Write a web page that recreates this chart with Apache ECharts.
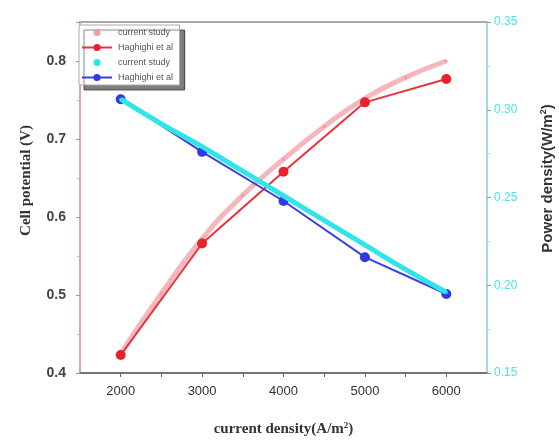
<!DOCTYPE html>
<html>
<head>
<meta charset="utf-8">
<script src="https://cdn.jsdelivr.net/npm/echarts@6/dist/echarts.min.js"></script>
<style>
  html, body { margin: 0; padding: 0; background: #fff; }
  #chart { width: 559px; height: 443px; }
</style>
</head>
<body>
<div id="chart"></div>
<script>
// current density (A/m2)
const xStudy = [2000, 2500, 3000, 3500, 4000, 4500, 5000, 5500, 6000];
const xRef = [2000, 3000, 4000, 5000, 6000];

// red pair, left axis
const redStudy = [0.425, 0.502, 0.572, 0.628, 0.674, 0.716, 0.752, 0.779, 0.800];
const redRef = [0.423, 0.566, 0.658, 0.747, 0.777];

// blue pair, right axis
const cyanStudy = [0.306, 0.292, 0.279, 0.265, 0.251, 0.237, 0.223, 0.209, 0.196];
const blueRef = [0.306, 0.276, 0.248, 0.216, 0.195];

const xLabels = [2000, 3000, 4000, 5000, 6000];

const zip = (xs, ys) => xs.map((x, i) => [x, ys[i]]);

const chart = echarts.init(document.getElementById("chart"));

chart.setOption({
  animation: false,
  grid: {
    left: 80, right: 72, top: 22, bottom: 70,
    outerBoundsMode: "none",
    containLabel: false,
    show: true, borderColor: "#8a8a8a", borderWidth: 1.5,
  },
  legend: {
    left: 79, top: 25,
    orient: "vertical",
    itemGap: 6,
    itemWidth: 30, itemHeight: 9,
    padding: [3, 4, 3, 2],
    backgroundColor: "#fff",
    borderColor: "#aaa",
    borderWidth: 1,
    shadowColor: "rgba(0,0,0,0.5)",
    shadowBlur: 1,
    shadowOffsetX: 5,
    shadowOffsetY: 5,
    textStyle: { fontSize: 9, color: "#555", fontFamily: "Liberation Sans", padding: [0, 0, 0, 1] },
    data: [
      { name: "current study", lineStyle: { width: 0, opacity: 0 } },
      "Haghighi et al",
      { name: "current study ", lineStyle: { width: 0, opacity: 0 } },
      "Haghighi et al ",
    ],
  },
  xAxis: {
    type: "value",
    min: 1500, max: 6500, interval: 500,
    name: "{a|current density(A/m}{s|2}{a|)}",
    nameLocation: "middle",
    nameGap: 48,
    nameTextStyle: {
      rich: {
        a: { fontFamily: "Liberation Serif", fontWeight: "bold", fontSize: 15, color: "#333" },
        s: { fontFamily: "Liberation Serif", fontWeight: "bold", fontSize: 9, color: "#333", verticalAlign: "top", padding: [0, 0, 8, 0] },
      },
    },
    axisLine: { lineStyle: { color: "#666", width: 1.5 } },
    axisTick: { show: true, length: 4, lineStyle: { color: "#666" } },
    splitLine: { show: false },
    axisLabel: {
      color: "#333", fontSize: 13, fontFamily: "Liberation Sans", margin: 12,
      showMinLabel: false, showMaxLabel: false,
      formatter: (v) => (xLabels.includes(v) ? String(v) : ""),
    },
  },
  yAxis: [
    {
      type: "value",
      min: 0.4, max: 0.85, interval: 0.1,
      name: "Cell potential (V)",
      nameLocation: "middle",
      nameRotate: 90,
      nameGap: 46,
      nameTextStyle: {
        fontFamily: "Liberation Serif", fontWeight: "bold", fontSize: 15, color: "#333",
        padding: [0, 0, 0, 34],
      },
      axisLine: { show: true, lineStyle: { color: "#f4a0a8", width: 1.5 } },
      axisTick: { show: true, length: 4, lineStyle: { color: "#999" } },
      minorTick: { show: true, splitNumber: 2, length: 3, lineStyle: { color: "#bbb" } },
      splitLine: { show: false },
      axisLabel: {
        color: "#444", fontSize: 14, fontWeight: "bold", fontFamily: "Liberation Sans",
        margin: 14,
        showMaxLabel: false,
        formatter: (v) => v.toFixed(1),
      },
    },
    {
      type: "value",
      min: 0.15, max: 0.35, interval: 0.05,
      name: "{a|Power density(W/m}{s|2}{a|)}",
      nameLocation: "middle",
      nameRotate: 90,
      nameGap: 52,
      nameTextStyle: {
        padding: [0, 0, 0, 38],
        rich: {
          a: { fontFamily: "Liberation Sans", fontWeight: "bold", fontSize: 15, color: "#333" },
          s: { fontFamily: "Liberation Sans", fontWeight: "bold", fontSize: 9, color: "#333", verticalAlign: "top", padding: [0, 0, 8, 0] },
        },
      },
      axisLine: { show: true, lineStyle: { color: "#9deff2", width: 1.5 } },
      axisTick: { show: true, length: 4, lineStyle: { color: "#999" } },
      minorTick: { show: true, splitNumber: 2, length: 3, lineStyle: { color: "#ccc" } },
      splitLine: { show: false },
      axisLabel: {
        color: "#4fe3e8", fontSize: 12, fontFamily: "Liberation Sans", margin: 7,
        formatter: (v) => v.toFixed(2),
      },
    },
  ],
  series: [
    {
      name: "current study",
      type: "line",
      yAxisIndex: 0,
      data: zip(xStudy, redStudy),
      smooth: true,
      symbol: "circle",
      symbolSize: 3,
      lineStyle: { color: "rgba(244,150,160,0.7)", width: 5 },
      itemStyle: { color: "rgba(240,150,160,0.9)" },
      z: 2,
    },
    {
      name: "Haghighi et al",
      type: "line",
      yAxisIndex: 0,
      data: zip(xRef, redRef),
      symbol: "circle",
      symbolSize: 10,
      lineStyle: { color: "#e8333b", width: 2 },
      itemStyle: { color: "#e8222c" },
      z: 3,
    },
    {
      name: "current study ",
      type: "line",
      yAxisIndex: 1,
      data: zip(xStudy, cyanStudy),
      smooth: true,
      symbol: "circle",
      symbolSize: 3,
      lineStyle: { color: "#30e4ea", width: 5 },
      itemStyle: { color: "#30e4ea" },
      z: 4,
    },
    {
      name: "Haghighi et al ",
      type: "line",
      yAxisIndex: 1,
      data: zip(xRef, blueRef),
      symbol: "circle",
      symbolSize: 10,
      lineStyle: { color: "#3a40e0", width: 2 },
      itemStyle: { color: "#2f3ae6" },
      z: 3,
    },
  ],
});
</script>
</body>
</html>
